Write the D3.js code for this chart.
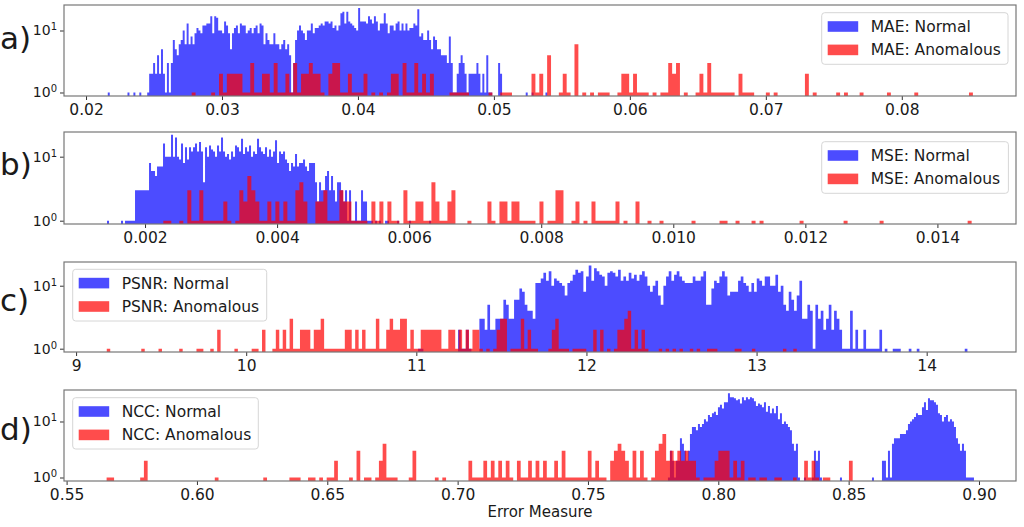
<!DOCTYPE html>
<html><head><meta charset="utf-8">
<script src="https://cdn.jsdelivr.net/npm/d3@7"></script>
<style>
body{margin:0;background:#fff;}
text{font-family:"DejaVu Sans",sans-serif;fill:#1a1a1a;}
</style></head>
<body><svg id="chart" width="1024" height="527"></svg>
<script>
// ---------- data ----------
const maeTicks = [0.02,0.03,0.04,0.05,0.06,0.07,0.08];
const mseTicks = [0.002,0.004,0.006,0.008,0.010,0.012,0.014];
const psnrTicks = [9,10,11,12,13,14];
const nccTicks = [0.55,0.60,0.65,0.70,0.75,0.80,0.85,0.90];

// MAE
const maeNormalStart = 0.0216, maeNormalBin = 0.000145;
const maeNormal = [
1,0,0,0,0,0,0,0,0,0, 1,0,0,1,0,0,1,0,0,0, 1,2,2,3,2,4,2,5,2,1, 3,1,3,7,5,4,6,7,10,6,
13,6,8,6,9,11,10,9,12,12, 13,13,17,9,17,16,10,10,9,14, 12,9,5,9,11,12,9,13,12,12, 9,10,11,9,11,12,9,13,12,6,
9,7,6,6,9,6,6,5,6,7, 5,6,4,1,3,7,10,12,10,9, 7,10,10,13,9,11,11,12,13,12, 14,14,13,14,11,12,10,12,19,20,
13,20,14,13,12,11,10,23,14,14, 14,13,17,15,13,17,14,10,13,13, 19,13,9,12,12,10,13,14,10,13, 10,13,10,11,11,13,12,22,8,9,
7,7,10,7,5,8,7,5,5,4, 4,4,3,8,3,1,1,2,3,4, 3,2,1,2,2,2,2,3,2,1, 2,1,4,1,1,0,0,0,3,2,
0,0,0,0,0,0,0,0,0,0, 0,0,1,0,0,1,0,0,0,0, 0,0,1];
const maeAnomStart = 0.02777, maeAnomBin = 0.0002873;
const maeAnom = [
1,0,0,0,0,1,0,2,1,2, 2,2,2,1,1,3,1,1,2,2, 1,3,1,1,2,1,3,1,2,2, 3,2,2,1,0,2,3,3,1,1,
2,1,1,1,2,0,1,0,1,0, 1,2,2,0,3,1,1,3,1,2, 1,2,0,0,0,0,1,1,1,1, 1,0,0,0,0,0,1,0,0,1,
1,1,0,0,0,0,0,2,1,2, 0,4,0,0,1,2,1,0,6,0, 1,0,1,0,1,1,1,0,0,1, 2,2,1,2,1,1,1,0,1,0,
1,1,3,2,3,0,1,0,0,1, 2,1,3,1,1,1,1,1,1,0, 2,1,1,1,0,0,0,1,0,1, 0,0,0,0,0,0,0,2,0,1,
0,0,0,0,0,1,0,1,0,0, 0,1,0,0,0,0,0,0,1,0, 0,0,0,0,0,1,0,0,0,0, 0,0,0,0,0,0,0,0,0,1];

// MSE
const mseNormalStart = 0.0014245, mseNormalBin = 0.00003029;
const mseNormal = [
1,0,0,0,0,0,0,1,0,1, 1,1,1,1,3,3,3,3,3,3, 3,8,6,6,5,7,7,7,16,10, 10,10,22,10,20,10,9,16,8,14,
9,14,12,14,16,12,17,12,4,14, 10,15,13,12,10,15,12,20,12,10, 11,9,12,10,15,14,12,19,11,14, 12,15,10,12,11,19,14,12,11,14,
10,13,10,12,18,8,12,11,12,9, 8,6,8,7,11,7,8,8,9,7, 6,8,8,8,4,2,4,3,3,5, 6,3,5,3,2,4,4,3,2,3,
1,3,1,1,2,1,1,3,2, 2,1,1,1,0,1,0,1,0,0,1,1,0,0,0,0,1,0,0,0,0,0,1,0,0,0,0,0,0,0,0,0,1];
const mseAnomStart = 0.002277, mseAnomBin = 0.0000606;
const mseAnom = [
1,1,0,0,1,0,3,1,1,3, 1,1,1,1,1,2,1,0,1,3, 2,5,3,2,1,1,2,1,2,1, 2,1,1,3,4,2,0,0,2,2,
3,1,1,1,3,2,2,1,1,1, 1,0,2,1,2,0,2,1,1,0, 3,1,1,2,2,1,1,4,2,1, 1,2,3,0,0,0,1,0,0,0,
0,2,1,0,2,2,1,2,2,1, 1,1,1,0,2,0,1,1,3,3, 0,0,1,2,0,1,0,2,1,1, 1,1,1,2,0,1,0,0,2,0,
0,1,0,0,1,0,0,0,0,0, 0,0,1,0,0,0,0,0,0,1, 1,0,0,1,0,0,0,1,0,1, 0,0,0,0,0,0,0,0,0,1,
0,0,0,0,0,0,0,0,0,0, 1,0,0,0,0,0,0,0,0,1, 0,0,0,0,0,0,0,0,0,0, 0,0,0,0,0,0,0,0,0,0, 0,1];

// PSNR
const psnrNormalStart = 10.9945, psnrNormalBin = 0.015676;
const psnrNormal = [
0,1,1,0,0,0,0,0,0,0,0,0,0,
0,0,0,2,1,1,2,1,0,0, 0,3,3,2,5,2,2,3,3,3, 6,5,3,3,6,6,9,8,5,4, 4,3,11,11,13,16,12,17,10,13,
12,11,10,7,11,12,15,18,16,17, 8,14,21,12,19,17,15,14,10,16, 17,16,14,18,12,14,12,16,13,15, 12,15,17,14,10,8,10,12,7,5,
10,14,17,12,15,17,14,12,11,11, 11,14,12,12,14,17,5,5,9,12, 11,14,17,14,7,8,8,8,12,14, 11,10,8,11,8,13,12,10,14,14,
10,10,15,8,10,5,4,8,6,4, 7,12,3,3,5,4,1,5,3,4, 2,3,5,2,4,3,2,1,1,1, 4,1,2,1,1,2,1,1,1,1,
1,2,0,1,0,0,1,1,1,0, 0,0,1,0,0,1,0,0,0,0, 0,0,0,0,0,0,0,0,0,0, 0,0,0,1];
const psnrAnomStart = 9.18045, psnrAnomBin = 0.020279;
const psnrAnom = [
1,0,0,0,0,0,0,0,0,0, 1,0,0,0,0,1,0,0,0,0, 0,1,0,0,0,0,1,1,0,0, 1,0,2,0,0,0,0,1,0,0,
0,0,1,1,0,2,0,0,1,2, 1,2,1,3,1,1,2,2,2,1, 2,2,3,1,1,1,1,1,1,2, 2,1,2,1,2,1,1,1,3,1,
1,2,3,2,2,3,3,1,2,1, 1,2,2,2,2,2,2,1,1,2, 2,1,2,1,2,1,2,2,1,0, 1,0,1,2,3,3,0,1,1,1,
3,1,2,1,1,0,0,0,1,2, 3,1,1,1,0,1,1,1,1,0, 0,2,0,2,0,1,0,1,2,2, 3,4,1,2,1,2,1,0,0,0,
1,0,1,0,1,0,1,0,0,1, 0,1,0,0,1,1,1,0,0,0, 0,0,1,1,0,0,0,1,0,0, 0,0,0,0,0,0,1,0,0,1];

// NCC
const nccNormalStart = 0.78068, nccNormalBin = 0.0007673;
const nccNormal = [
1,3,2,1,2,2,5,4,3,2, 3,6,8,8,7,9,8,9,11,10, 13,12,14,15,13,18,20,17,22,22, 32,27,27,26,24,25,21,27,24,27,
25,27,26,23,19,21,20,18,22,15, 19,14,17,14,19,11,14,9,10,9, 8,7,4,3,4,1,0,0,1,0, 0,0,1,3,2,3,1,0,0,0,
0,0,0,0,0,0,1,0,0,0, 0,0,0,0,0,0,0,0,0,0, 0,0,1,0,0,0,0,2,2,1, 3,1,4,5,5,5,6,6,6,7,
9,10,11,12,14,13,13,18,22,16, 26,24,24,22,20,14,13,10,12,13, 10,11,10,8,5,4,3,4,3,1, 1,1,1];
const nccAnomStart = 0.565346, nccAnomBin = 0.001431;
const nccAnom = [
1,1,0,0,0,0,0,0,0,1, 2,0,0,0,0,0,0,0,0,0, 0,0,0,0,0,0,0,0,0,1, 0,0,0,0,0,0,0,0,0,0,
0,0,1,0,0,0,0,0,0,1, 1,1,0,0,1,1,0,1,0,1, 1,2,0,0,0,1,0,3,0,1, 1,0,1,2,4,1,1,1,0,0,
0,1,3,0,0,0,0,0,1,0, 1,0,0,0,0,0,0,2,1,1, 1,2,1,2,1,2,1,2,1,0, 2,1,1,2,1,2,1,2,1,1,
2,1,3,1,1,1,1,1,1,3, 1,2,1,1,0,2,3,4,3,2, 1,3,1,3,1,0,1,3,4,6, 2,3,2,3,2,3,2,2,1,0,
1,1,1,2,3,3,3,1,2,1, 2,0,1,1,0,1,1,0,0,1, 1,0,0,0,1,0,0,2,1,2, 1,0,1,1,0,0,0,0,0,2];

// ---------- layout ----------
const L = 64, R = 1016;
const BLUE = "#0000ff", RED = "#ff0000", ALPHA = 0.7;
const panels = [
  {label:"a)", labelY:49, top:5, bottom:96, xDomain:[0.01838,0.0884], yDomain:[0.878,25.8],
   ticks:maeTicks, fmt:".2f", normal:[maeNormalStart,maeNormalBin,maeNormal], anom:[maeAnomStart,maeAnomBin,maeAnom],
   names:["MAE: Normal","MAE: Anomalous"], legend:[821.7,12.7,186.3,51.6]},
  {label:"b)", labelY:175, top:132, bottom:224, xDomain:[0.000773,0.01519], yDomain:[0.888,24.3],
   ticks:mseTicks, fmt:".3f", normal:[mseNormalStart,mseNormalBin,mseNormal], anom:[mseAnomStart,mseAnomBin,mseAnom],
   names:["MSE: Normal","MSE: Anomalous"], legend:[821.7,141.7,186.7,51.6]},
  {label:"c)", labelY:311, top:262, bottom:352, xDomain:[8.929,14.525], yDomain:[0.886,23.8],
   ticks:psnrTicks, fmt:"d", normal:[psnrNormalStart,psnrNormalBin,psnrNormal], anom:[psnrAnomStart,psnrAnomBin,psnrAnom],
   names:["PSNR: Normal","PSNR: Anomalous"], legend:[72.7,269.3,194,51.7]},
  {label:"d)", labelY:440, top:390, bottom:481, xDomain:[0.549,0.9142], yDomain:[0.866,36.5],
   ticks:nccTicks, fmt:".2f", normal:[nccNormalStart,nccNormalBin,nccNormal], anom:[nccAnomStart,nccAnomBin,nccAnom],
   names:["NCC: Normal","NCC: Anomalous"], legend:[72.7,397.7,185.6,51.3]}
];

const svg = d3.select("#chart");

function drawHist(g, x, y, p, series, color){
  const [start, bin, counts] = series;
  const pts = counts.map((c,i)=>({v:start+i*bin, c}));
  pts.push({v:start+counts.length*bin, c:0});
  const area = d3.area()
    .x(d=>x(d.v))
    .y0(p.bottom)
    .y1(d=> d.c>0 ? y(d.c) : p.bottom)
    .curve(d3.curveStepAfter);
  g.append("path").attr("d", area(pts)).attr("fill", color).attr("fill-opacity", ALPHA);
}

panels.forEach(p=>{
  const g = svg.append("g");
  const x = d3.scaleLinear().domain(p.xDomain).range([L,R]);
  const y = d3.scaleLog().domain(p.yDomain).range([p.bottom,p.top]);

  drawHist(g, x, y, p, p.normal, BLUE);
  drawHist(g, x, y, p, p.anom, RED);

  // x axis
  const xa = g.append("g").attr("transform",`translate(0,${p.bottom})`)
    .call(d3.axisBottom(x).tickValues(p.ticks).tickFormat(d3.format(p.fmt)).tickSize(4).tickPadding(4));
  xa.select(".domain").remove();
  xa.selectAll(".tick line").attr("stroke","#333");
  xa.selectAll(".tick text").attr("font-size",15.5).attr("font-family","DejaVu Sans").attr("fill","#1a1a1a");

  // y axis
  const ya = g.append("g").attr("transform",`translate(${L},0)`)
    .call(d3.axisLeft(y).tickValues([1,10]).tickSize(4).tickPadding(3));
  ya.select(".domain").remove();
  ya.selectAll(".tick line").attr("stroke","#333");
  ya.selectAll(".tick text").attr("font-family","DejaVu Sans").attr("fill","#1a1a1a").each(function(d){
    const t = d3.select(this); t.text(null).attr("font-size",14);
    t.append("tspan").text("10");
    t.append("tspan").attr("dy","-0.5em").attr("font-size",10).text(Math.round(Math.log10(d)));
  });

  // frame
  g.append("rect").attr("x",L).attr("y",p.top).attr("width",R-L).attr("height",p.bottom-p.top)
    .attr("fill","none").attr("stroke","#777").attr("stroke-width",1.2);

  // panel label
  g.append("text").attr("x",0).attr("y",p.labelY).attr("font-size",31).text(p.label);

  // legend
  const [lx,ly,lw,lh] = p.legend;
  const lg = g.append("g");
  lg.append("rect").attr("x",lx).attr("y",ly).attr("width",lw).attr("height",lh).attr("rx",3)
    .attr("fill","#fff").attr("fill-opacity",0.8).attr("stroke","#d6d6d6");
  [[BLUE,p.names[0],13.8],[RED,p.names[1],37.2]].forEach(([c,name,dy])=>{
    lg.append("rect").attr("x",lx+6).attr("y",ly+dy-5.3).attr("width",30.5).attr("height",10.6)
      .attr("fill",c).attr("fill-opacity",ALPHA);
    lg.append("text").attr("x",lx+49).attr("y",ly+dy+5.5).attr("font-size",15.5).text(name);
  });
});

svg.append("text").attr("x",540).attr("y",517).attr("text-anchor","middle").attr("font-size",15).text("Error Measure");
</script>
</body></html>
